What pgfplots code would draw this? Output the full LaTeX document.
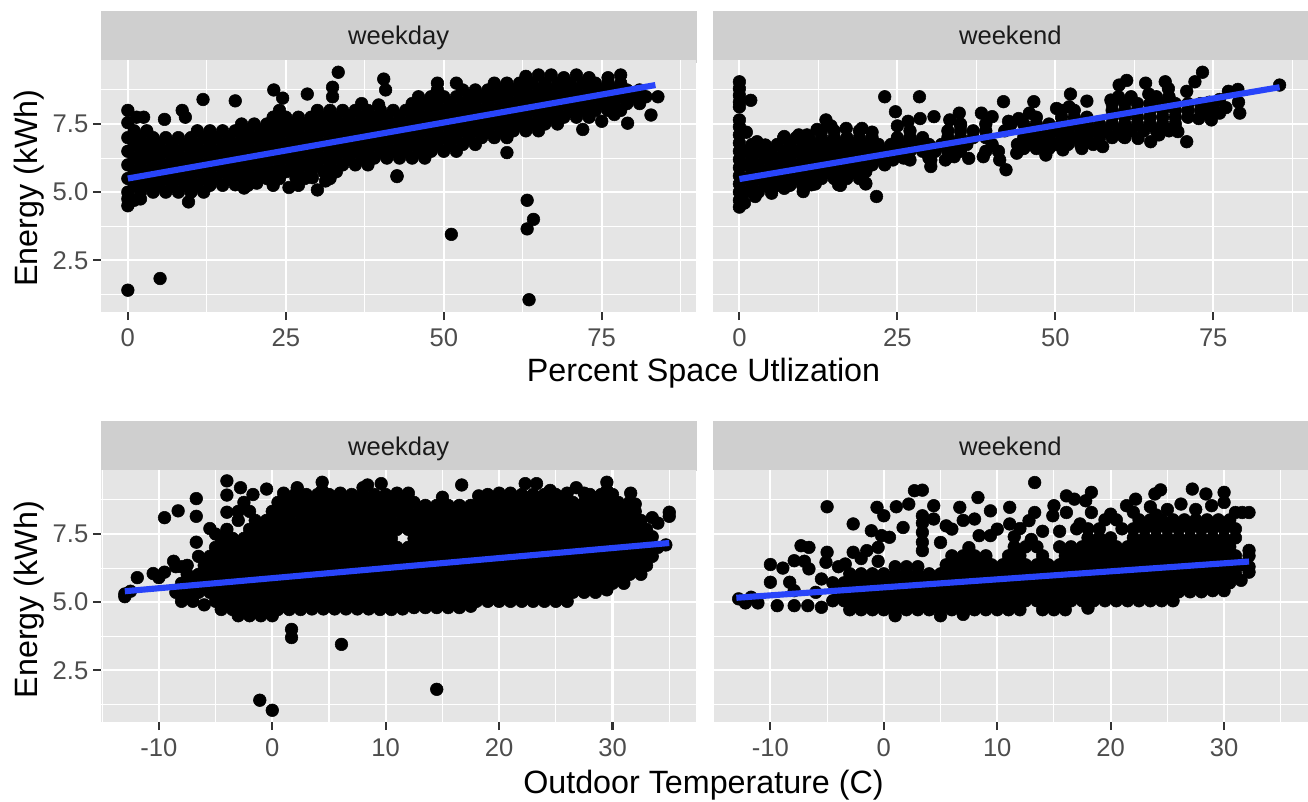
\documentclass[border=0pt]{standalone}
\usepackage{pgfplots}
\pgfplotsset{compat=1.18}
\usepackage{fontspec}
\setmainfont{Liberation Sans}
\definecolor{panelbg}{RGB}{229,229,229}
\definecolor{stripbg}{RGB}{207,207,207}
\definecolor{ticktxt}{RGB}{77,77,77}
\definecolor{tickcol}{RGB}{51,51,51}
\definecolor{stxt}{RGB}{26,26,26}
\definecolor{fitblue}{RGB}{40,68,250}
\pgfplotsset{
  panel/.style={
    scale only axis, width=446.6pt, height=189pt,
    anchor=south west, axis background/.style={fill=panelbg},
    clip mode=individual,
    ymin=0.6, ymax=9.85,
    axis line style={draw=none},
    grid=both,
    major grid style={white,line width=1.6pt},
    minor grid style={white,line width=0.8pt},
    ytick={2.5,5,7.5}, minor ytick={1.25,3.75,6.25,8.75},
    tick align=outside, major tick length=6pt, minor tick length=0pt,
    tick style={tickcol,line width=1.6pt},
    minor tick style={draw=none},
    tick label style={font=\fontsize{19.2}{22}\selectfont, text=ticktxt},
    xtick pos=bottom, ytick pos=left,
    xticklabel style={yshift=-3pt},
  },
  util/.style={panel, xmin=-4.25, xmax=90,
    xtick={0,25,50,75}, xticklabels={0,25,50,75},
    minor xtick={12.5,37.5,62.5,87.5}},
  temp/.style={panel, xmin=-15.1, xmax=37.4,
    xtick={-10,0,10,20,30}, xticklabels={-10,0,10,20,30},
    minor xtick={-15,-5,5,15,25,35}},
  leftp/.style={yticklabels={2.5,5.0,7.5}},
  rightp/.style={yticklabels={}, ytick style={draw=none}},
  pts/.style={only marks, mark=*, mark size=4.75pt, black, mark options={fill=black,draw=black}},
  fit/.style={no marks, fitblue, line width=4.6pt},
}
\begin{document}
\begin{tikzpicture}
\useasboundingbox (0,0) rectangle (981pt,600.75pt);

% strips
\fill[stripbg] (75.75pt,553.5pt) rectangle (522.4pt,592.7pt);
\fill[stripbg] (534.4pt,553.5pt) rectangle (981pt,592.7pt);
\fill[stripbg] (75.75pt,247.7pt) rectangle (522.4pt,285pt);
\fill[stripbg] (534.4pt,247.7pt) rectangle (981pt,285pt);

% space utilization, weekday
\begin{axis}[util, leftp, at={(75.75pt,366.75pt)}]
\addplot[pts] coordinates {
(0,1.4)(5.1,1.83)(51.2,3.45)(63.2,4.7)(63.2,3.65)(64.2,4.0)(63.5,1.05)(42.6,5.6)(60,6.45)
(0,8.0)(0,7.55)(2.5,7.75)(1.4,7.75)(5.8,7.67)(8.6,8.0)(9.1,7.75)(11.9,8.4)(17,8.35)(23.1,8.75)(24.5,8.45)(28.4,8.6)(33.3,9.4)(32.4,8.85)(32.4,8.5)(40.5,9.15)(40.8,8.75)(39.7,8.2)
(24.6,5.78)(26.6,5.53)(25.5,5.17)(30,5.08)(31.3,5.41)(29.2,5.53)(42.6,5.57)(18.4,5.15)(17,5.27)(20.4,5.33)(9.6,4.64)(83.9,8.5)(79.1,7.53)(82.8,7.83)(75,7.6)(77,7.85)(72,7.3)
(0,4.5)(0,4.75)(1,4.7)(2,4.75)
(0,5)(2,5)(4,5)(6,5)(8,5)(10,5)(12,5)
(1,5.25)(3,5.25)(5,5.25)(7,5.25)(9,5.25)(11,5.25)(13,5.25)(15,5.25)(19,5.25)(23,5.25)(27,5.25)
(0,5.5)(2,5.5)(4,5.5)(6,5.5)(8,5.5)(10,5.5)(12,5.5)(14,5.5)(16,5.5)(18,5.5)(20,5.5)(22,5.5)(24,5.5)(28,5.5)(32,5.5)
(1,5.75)(3,5.75)(5,5.75)(7,5.75)(9,5.75)(11,5.75)(13,5.75)(15,5.75)(17,5.75)(19,5.75)(21,5.75)(23,5.75)(25,5.75)(27,5.75)(29,5.75)(31,5.75)(33,5.75)
(0,6)(2,6)(4,6)(6,6)(8,6)(10,6)(12,6)(14,6)(16,6)(18,6)(20,6)(22,6)(24,6)(26,6)(28,6)(30,6)(32,6)(34,6)(36,6)(38,6)
(1,6.25)(3,6.25)(5,6.25)(7,6.25)(9,6.25)(11,6.25)(13,6.25)(15,6.25)(17,6.25)(19,6.25)(21,6.25)(23,6.25)(25,6.25)(27,6.25)(29,6.25)(31,6.25)(33,6.25)(35,6.25)(37,6.25)(39,6.25)(41,6.25)(43,6.25)(45,6.25)(47,6.25)
(0,6.5)(2,6.5)(4,6.5)(6,6.5)(8,6.5)(10,6.5)(12,6.5)(14,6.5)(16,6.5)(18,6.5)(20,6.5)(22,6.5)(24,6.5)(26,6.5)(28,6.5)(30,6.5)(32,6.5)(34,6.5)(36,6.5)(38,6.5)(40,6.5)(42,6.5)(44,6.5)(46,6.5)(48,6.5)(50,6.5)(52,6.5)
(1,6.75)(3,6.75)(5,6.75)(7,6.75)(9,6.75)(11,6.75)(13,6.75)(15,6.75)(17,6.75)(19,6.75)(21,6.75)(23,6.75)(25,6.75)(27,6.75)(29,6.75)(31,6.75)(33,6.75)(35,6.75)(37,6.75)(39,6.75)(41,6.75)(43,6.75)(45,6.75)(47,6.75)(49,6.75)(51,6.75)(53,6.75)(55,6.75)
(0,7)(2,7)(4,7)(6,7)(8,7)(10,7)(12,7)(14,7)(16,7)(18,7)(20,7)(22,7)(24,7)(26,7)(28,7)(30,7)(32,7)(34,7)(36,7)(38,7)(40,7)(42,7)(44,7)(46,7)(48,7)(50,7)(52,7)(54,7)(56,7)(58,7)(60,7)
(1,7.25)(3,7.25)(11,7.25)(13,7.25)(15,7.25)(17,7.25)(19,7.25)(21,7.25)(23,7.25)(25,7.25)(27,7.25)(29,7.25)(31,7.25)(33,7.25)(35,7.25)(37,7.25)(39,7.25)(41,7.25)(43,7.25)(45,7.25)(47,7.25)(49,7.25)(51,7.25)(53,7.25)(55,7.25)(57,7.25)(59,7.25)(61,7.25)(63,7.25)(65,7.25)
(18,7.5)(20,7.5)(22,7.5)(24,7.5)(26,7.5)(28,7.5)(30,7.5)(32,7.5)(34,7.5)(36,7.5)(38,7.5)(40,7.5)(42,7.5)(44,7.5)(46,7.5)(48,7.5)(50,7.5)(52,7.5)(54,7.5)(56,7.5)(58,7.5)(60,7.5)(62,7.5)(64,7.5)(66,7.5)(68,7.5)
(23,7.75)(25,7.75)(27,7.75)(29,7.75)(31,7.75)(33,7.75)(35,7.75)(37,7.75)(39,7.75)(41,7.75)(43,7.75)(45,7.75)(47,7.75)(49,7.75)(51,7.75)(53,7.75)(55,7.75)(57,7.75)(59,7.75)(61,7.75)(63,7.75)(65,7.75)(67,7.75)(69,7.75)(71,7.75)(73,7.75)
(24,8)(30,8)(32,8)(34,8)(36,8)(38,8)(40,8)(42,8)(44,8)(46,8)(48,8)(50,8)(52,8)(54,8)(56,8)(58,8)(60,8)(62,8)(64,8)(66,8)(68,8)(70,8)(72,8)(74,8)(76,8)(78,8)
(37,8.25)(45,8.25)(47,8.25)(49,8.25)(51,8.25)(53,8.25)(55,8.25)(57,8.25)(59,8.25)(61,8.25)(63,8.25)(65,8.25)(67,8.25)(69,8.25)(71,8.25)(73,8.25)(75,8.25)(77,8.25)(79,8.25)(81,8.25)
(46,8.5)(48,8.5)(50,8.5)(52,8.5)(54,8.5)(56,8.5)(58,8.5)(60,8.5)(62,8.5)(64,8.5)(66,8.5)(68,8.5)(70,8.5)(72,8.5)(74,8.5)(76,8.5)(78,8.5)(80,8.5)(82,8.5)
(49,8.75)(53,8.75)(55,8.75)(57,8.75)(59,8.75)(61,8.75)(63,8.75)(65,8.75)(67,8.75)(69,8.75)(71,8.75)(73,8.75)(75,8.75)(77,8.75)(79,8.75)(81,8.75)
(49,9)(52,9)(58,9)(60,9)(62,9)(64,9)(66,9)(68,9)(70,9)(72,9)(74,9)(76,9)(78,9)
(63,9.25)(65,9.3)(67,9.3)(69,9.2)(71,9.3)(73,9.2)(76,9.2)(78,9.3)
};
\addplot[fit] coordinates {(0,5.5)(83.5,8.93)};
\end{axis}

% space utilization, weekend
\begin{axis}[util, rightp, at={(534.4pt,366.75pt)}]
\addplot[pts] coordinates {
(0,9.05)(0,8.8)(0,8.55)(0,8.3)(0,8.13)(1.8,8.37)(0,7.65)(0,7.4)(0,7.1)(0,6.8)(0,6.5)(0,6.2)(0,5.9)(0,5.6)(0,5.3)(0,5)(0,4.7)(0,4.45)(0.8,4.6)
(1.1,7.2)(2.8,6.85)(4.1,6.73)(7.1,7.04)(9.4,7.1)(10.7,7.1)(12.3,7.3)(13.7,7.65)(14.5,7.43)(16.9,7.34)(19.4,7.34)(21,7.2)(23,8.5)(24.7,7.95)(25,7.43)(26.7,7.6)(28.5,8.5)(28.6,7.7)(30.8,7.77)(33.3,7.65)(34.8,7.9)(35,7.46)(38.3,7.9)(40,7.77)(41.8,8.32)(42.6,7.6)(44.2,7.7)(46.6,8.32)(45.9,7.9)(50.2,8.07)(52.4,8.6)(52.2,8.13)(55,8.34)(58.8,8.38)(60.1,8.93)(61.3,9.1)(64.3,9)(64.8,8.6)(67.4,9.05)(67.9,8.8)(70.8,8.7)(72.1,9.05)(73.3,9.4)(74.4,8.3)(77.4,8.7)(78.9,8.77)(79,8.3)(79.2,7.9)(85.5,8.93)
(2.5,4.84)(5.1,4.96)(7.1,5.14)(10.1,5.02)(11.4,5.27)(15.7,5.27)(20,5.33)(21.7,4.84)(17.7,5.75)(24.3,6.18)(27,6.18)(30.3,5.94)(30.3,6.18)(32.6,6.18)(36.3,6.24)(38.6,6.3)(42.2,5.82)(41.2,6.18)(43.9,6.43)(48.5,6.36)(51.2,6.55)(54.2,6.6)(57.5,6.67)(60.8,7.04)(63.1,6.97)(65.1,6.85)(66.4,7.1)(69.4,7.22)(70.8,6.85)(72.7,7.7)(74.7,7.65)
(1,5)(3,5)(5,5.1)
(2,5.25)(4,5.25)(6,5.25)(8,5.25)(10,5.25)(12,5.3)(16,5.25)(20,5.3)
(1,5.5)(3,5.5)(5,5.5)(7,5.5)(9,5.5)(11,5.5)(13,5.5)(15,5.5)(17,5.5)(19,5.5)
(2,5.75)(4,5.75)(6,5.75)(8,5.75)(10,5.75)(12,5.75)(14,5.75)(16,5.75)(18,5.75)(20,5.75)
(1,6)(3,6)(5,6)(7,6)(9,6)(11,6)(13,6)(15,6)(17,6)(19,6)(21,6)(23,6)
(2,6.25)(4,6.25)(6,6.25)(8,6.25)(10,6.25)(12,6.25)(14,6.25)(16,6.25)(18,6.25)(20,6.25)(22,6.25)(24,6.25)(26,6.25)(30,6.25)(34,6.3)
(1,6.5)(3,6.5)(5,6.5)(7,6.5)(9,6.5)(11,6.5)(13,6.5)(15,6.5)(17,6.5)(19,6.5)(21,6.5)(23,6.5)(25,6.5)(27,6.5)(29,6.5)(31,6.5)(33,6.5)(35,6.5)(39,6.5)(41,6.5)(45,6.6)(47,6.6)(49,6.6)
(2,6.75)(6,6.75)(8,6.75)(10,6.75)(12,6.75)(14,6.75)(16,6.75)(18,6.75)(20,6.75)(22,6.75)(24,6.75)(26,6.75)(28,6.75)(30,6.75)(32,6.75)(34,6.75)(36,6.75)(40,6.75)(44,6.75)(46,6.75)(48,6.75)(50,6.75)(52,6.75)(54,6.75)(56,6.75)
(7,7)(9,7)(11,7)(13,7)(15,7)(17,7)(19,7)(21,7)(25,7)(27,7)(29,7)(33,7)(35,7)(37,7)(39,7)(45,7)(47,7)(49,7)(51,7)(53,7)(55,7)(57,7)(59,7)(61,7)
(13,7.25)(15,7.25)(19,7.25)(27,7.25)(33,7.25)(35,7.25)(37,7.25)(39,7.25)(42,7.25)(46,7.25)(48,7.25)(50,7.25)(52,7.25)(54,7.25)(56,7.25)(58,7.25)(60,7.25)(62,7.25)(64,7.25)(66,7.25)(68,7.25)
(35,7.5)(39,7.5)(43,7.5)(45,7.5)(47,7.5)(49,7.5)(51,7.5)(53,7.5)(55,7.5)(57,7.5)(59,7.5)(61,7.5)(63,7.5)(65,7.5)(67,7.5)(69,7.5)
(47,7.75)(51,7.75)(53,7.75)(55,7.75)(59,7.75)(61,7.75)(63,7.75)(65,7.75)(67,7.75)(69,7.75)(71,7.75)(74,7.9)(76,7.9)
(51,8)(53,8)(59,8)(61,8)(63,8)(65,8)(67,8)(69,8)(71,8)(73,8)(75,8.1)(77,8.1)
(59,8.25)(61,8.25)(63,8.25)(65,8.25)(67,8.25)(69,8.25)(71,8.25)(73,8.25)(76,8.4)
(60,8.5)(62,8.5)(66,8.5)(68,8.5)
};
\addplot[fit] coordinates {(0,5.48)(85.5,8.85)};
\end{axis}

% outdoor temperature, weekday
\begin{axis}[temp, leftp, at={(75.75pt,59.25pt)}]
\addplot[pts] coordinates {
(-13,5.2)(-13,5.3)(-12.5,5.4)(-11.9,5.9)(-10.5,6.05)(-10,5.9)(-9.5,6.1)(-8.7,6.5)(-8.5,6.3)(-8,6.3)(-7.5,6.35)(-9.5,8.1)(-8.3,8.35)(-6.7,8.8)(-6.7,8.15)(-6.7,7.2)(-5.5,7.7)(-5,7.5)(1.7,4)(1.7,3.7)(6.1,3.45)(14.5,1.8)(-1.1,1.4)(0,1.03)
(-4,9.45)(-4,8.93)(-4,8.3)(-2.8,9.2)(-1.7,8.95)(-0.5,9.15)(1,9)(2.2,9.2)(4.4,9.4)(4.4,9.1)(6,9)(8,9.2)(8.4,9.3)(9.6,9.35)(11,9)(12,9)(15,8.85)(16.7,9.3)(18.2,8.9)(20,9)(21,9)(22.3,9.35)(23.3,9.35)(24.5,9.1)(26,9)(26.8,9.2)(27.5,9)(29.5,9.4)(29.5,9.1)(31.6,9)(33.5,8.1)(34,7.9)(35,8.3)(35,8.15)(34.7,7.1)(33.5,7.4)
(2,8.95)(3,8.95)(4,8.95)(5,8.95)(7,8.95)(8,8.95)(9,8.95)(10,8.95)(19,8.95)(22,8.95)(23,8.95)(24,8.95)(25,8.95)(28,8.95)(29,8.95)(30,8.95)
(-3,4.5)(-2,4.5)(-1,4.5)(0,4.5)
(-4.5,4.73)(-3.5,4.73)(-2.5,4.73)(-1.5,4.73)(-0.5,4.73)(0.5,4.73)(1.5,4.73)(2.5,4.73)(3.5,4.75)(4.5,4.75)(5.5,4.75)(6.5,4.75)(7.5,4.75)(8.5,4.75)(9.5,4.73)(10.5,4.73)(11.5,4.75)(12.5,4.8)(13.5,4.8)(14.5,4.8)(15.5,4.8)(16.5,4.8)(17.5,4.85)
(-8,5.03)(-7,5.03)(-6,4.9)(-5,5.03)(-4,5.03)(-3,5.03)(-2,5.03)(-1,5.03)(0,5.03)(1,5.03)(2,5.03)(3,5.03)(4,5.03)(5,5.03)(6,5.03)(7,5.03)(8,5.03)(9,5.03)(10,5.03)(11,5.03)(12,5.03)(13,5.03)(14,5.03)(15,5.03)(16,5.03)(17,5.03)(18,5.03)(19,5.03)(20,5.03)(21,5.03)(22,5.03)(23,5.03)(24,5.03)(25,5.03)(26,5.03)
(-8.5,5.36)(-7.5,5.36)(-6.5,5.36)(-5.5,5.36)(-4.5,5.36)(-3.5,5.36)(-2.5,5.36)(-1.5,5.36)(-0.5,5.36)(0.5,5.36)(1.5,5.36)(2.5,5.36)(3.5,5.36)(4.5,5.36)(5.5,5.36)(6.5,5.36)(7.5,5.36)(8.5,5.36)(9.5,5.36)(10.5,5.36)(11.5,5.36)(12.5,5.36)(13.5,5.36)(14.5,5.36)(15.5,5.36)(16.5,5.36)(17.5,5.36)(18.5,5.36)(19.5,5.36)(20.5,5.36)(21.5,5.36)(22.5,5.36)(23.5,5.36)(24.5,5.36)(25.5,5.36)(26.5,5.36)(27.5,5.36)(28.5,5.36)(29.5,5.45)
(-8,5.69)(-7,5.69)(-6,5.69)(-5,5.69)(-4,5.69)(-3,5.69)(-2,5.69)(-1,5.69)(0,5.69)(1,5.69)(2,5.69)(3,5.69)(4,5.69)(5,5.69)(6,5.69)(7,5.69)(8,5.69)(9,5.69)(10,5.69)(11,5.69)(12,5.69)(13,5.69)(14,5.69)(15,5.69)(16,5.69)(17,5.69)(18,5.69)(19,5.69)(20,5.69)(21,5.69)(22,5.69)(23,5.69)(24,5.69)(25,5.69)(26,5.69)(27,5.69)(28,5.69)(29,5.69)(30,5.69)(31,5.69)
(-7.5,6.02)(-6.5,6.02)(-5.5,6.02)(-4.5,6.02)(-3.5,6.02)(-2.5,6.02)(-1.5,6.02)(-0.5,6.02)(0.5,6.02)(1.5,6.02)(2.5,6.02)(3.5,6.02)(4.5,6.02)(5.5,6.02)(6.5,6.02)(7.5,6.02)(8.5,6.02)(9.5,6.02)(10.5,6.02)(11.5,6.02)(12.5,6.02)(13.5,6.02)(14.5,6.02)(15.5,6.02)(16.5,6.02)(17.5,6.02)(18.5,6.02)(19.5,6.02)(20.5,6.02)(21.5,6.02)(22.5,6.02)(23.5,6.02)(24.5,6.02)(25.5,6.02)(26.5,6.02)(27.5,6.02)(28.5,6.02)(29.5,6.02)(30.5,6.02)(31.5,6.02)(32.5,6.02)
(-6,6.35)(-5,6.35)(-4,6.35)(-3,6.35)(-2,6.35)(-1,6.35)(0,6.35)(1,6.35)(2,6.35)(3,6.35)(4,6.35)(5,6.35)(6,6.35)(7,6.35)(8,6.35)(9,6.35)(10,6.35)(11,6.35)(12,6.35)(13,6.35)(14,6.35)(15,6.35)(16,6.35)(17,6.35)(18,6.35)(19,6.35)(20,6.35)(21,6.35)(22,6.35)(23,6.35)(24,6.35)(25,6.35)(26,6.35)(27,6.35)(28,6.35)(29,6.35)(30,6.35)(31,6.35)(32,6.35)(33,6.35)
(-6.5,6.68)(-5.5,6.68)(-4.5,6.68)(-3.5,6.68)(-2.5,6.68)(-1.5,6.68)(-0.5,6.68)(0.5,6.68)(1.5,6.68)(2.5,6.68)(3.5,6.68)(4.5,6.68)(5.5,6.68)(6.5,6.68)(7.5,6.68)(8.5,6.68)(9.5,6.68)(10.5,6.68)(11.5,6.68)(12.5,6.68)(13.5,6.68)(14.5,6.68)(15.5,6.68)(16.5,6.68)(17.5,6.68)(18.5,6.68)(19.5,6.68)(20.5,6.68)(21.5,6.68)(22.5,6.68)(23.5,6.68)(24.5,6.68)(25.5,6.68)(26.5,6.68)(27.5,6.68)(28.5,6.68)(29.5,6.68)(30.5,6.68)(31.5,6.68)(32.5,6.68)(33.5,6.68)
(-5,7.01)(-4,7.01)(-3,7.01)(-2,7.01)(-1,7.01)(0,7.01)(1,7.01)(2,7.01)(3,7.01)(4,7.01)(5,7.01)(6,7.01)(7,7.01)(8,7.01)(9,7.01)(10,7.01)(11,7.01)(12,7.01)(13,7.01)(14,7.01)(15,7.01)(16,7.01)(17,7.01)(18,7.01)(19,7.01)(20,7.01)(21,7.01)(22,7.01)(23,7.01)(24,7.01)(25,7.01)(26,7.01)(27,7.01)(28,7.01)(29,7.01)(30,7.01)(31,7.01)(32,7.01)(33,7.01)(34,7.01)
(-4.5,7.34)(-3.5,7.34)(-2.5,7.34)(-1.5,7.34)(-0.5,7.34)(0.5,7.34)(1.5,7.34)(2.5,7.34)(3.5,7.34)(4.5,7.34)(5.5,7.34)(6.5,7.34)(7.5,7.34)(8.5,7.34)(9.5,7.34)(10.5,7.34)(12.5,7.34)(13.5,7.34)(14.5,7.34)(15.5,7.34)(16.5,7.34)(17.5,7.34)(18.5,7.34)(19.5,7.34)(20.5,7.34)(21.5,7.34)(22.5,7.34)(23.5,7.34)(24.5,7.34)(25.5,7.34)(26.5,7.34)(27.5,7.34)(28.5,7.34)(29.5,7.34)(30.5,7.34)(31.5,7.34)(32.5,7.34)
(-4,7.67)(-2,7.67)(-1,7.67)(0,7.67)(1,7.67)(2,7.67)(3,7.67)(4,7.67)(5,7.67)(6,7.67)(7,7.67)(8,7.67)(9,7.67)(10,7.67)(11,7.67)(12,7.67)(13,7.67)(14,7.67)(15,7.67)(16,7.67)(17,7.67)(18,7.67)(19,7.67)(20,7.67)(21,7.67)(22,7.67)(23,7.67)(24,7.67)(25,7.67)(26,7.67)(27,7.67)(28,7.67)(29,7.67)(30,7.67)(31,7.67)(32,7.67)(33,7.67)
(-3,8)(-1.5,8)(-0.5,8)(0.5,8)(1.5,8)(2.5,8)(3.5,8)(4.5,8)(5.5,8)(6.5,8)(7.5,8)(8.5,8)(9.5,8)(10.5,8)(11.5,8)(12.5,8)(13.5,8)(14.5,8)(15.5,8)(16.5,8)(17.5,8)(18.5,8)(19.5,8)(20.5,8)(21.5,8)(22.5,8)(23.5,8)(24.5,8)(25.5,8)(26.5,8)(27.5,8)(28.5,8)(29.5,8)(30.5,8)(31.5,8)(32.5,8)
(-3,8.33)(-2,8.33)(0,8.33)(1,8.33)(2,8.33)(3,8.33)(4,8.33)(5,8.33)(6,8.33)(7,8.33)(8,8.33)(9,8.33)(10,8.33)(11,8.33)(12,8.33)(13,8.33)(14,8.33)(15,8.33)(16,8.33)(17,8.33)(18,8.33)(19,8.33)(20,8.33)(21,8.33)(22,8.33)(23,8.33)(24,8.33)(25,8.33)(26,8.33)(27,8.33)(28,8.33)(29,8.33)(30,8.33)(31,8.33)(32,8.33)
(-2.5,8.66)(0.5,8.66)(1.5,8.66)(2.5,8.66)(3.5,8.66)(4.5,8.66)(5.5,8.66)(6.5,8.66)(7.5,8.66)(8.5,8.66)(9.5,8.66)(10.5,8.66)(11.5,8.66)(12.5,8.66)(13.5,8.55)(14.5,8.55)(15.5,8.55)(16.5,8.55)(17.5,8.55)(18.5,8.66)(19.5,8.66)(20.5,8.66)(21.5,8.66)(22.5,8.66)(23.5,8.66)(24.5,8.66)(25.5,8.66)(26.5,8.66)(27.5,8.66)(28.5,8.66)(29.5,8.66)(30.5,8.66)(31.5,8.66)(32,8.6)
};
\addplot[fit] coordinates {(-13,5.4)(35,7.17)};
\end{axis}

% outdoor temperature, weekend
\begin{axis}[temp, rightp, at={(534.4pt,59.25pt)}]
\addplot[pts] coordinates {
(-5,8.5)(-2.7,7.87)(-1.1,7.62)(-0.6,8.48)(0,8.17)(1.1,8.5)(2.2,8.6)(2.7,9.09)(3.4,9.11)(1.7,7.74)(-0.2,7.44)(0.5,7.38)(-0.5,7.01)(-1.5,6.89)(-2.7,6.83)(-3.4,6.4)(-5,6.83)(-5.1,6.46)(-6.6,7.01)(-7.3,7.07)(-7.9,6.52)(-10,6.38)(-8.9,6.25)(-10,5.73)(-8.3,5.73)(-12.8,5.12)(-12.2,4.97)(-11.7,5.18)(-11.1,4.97)(-9.4,4.87)(-7.9,4.87)(-6.7,4.87)(-5.5,4.81)(-6.6,6.22)(-5.5,5.85)(-7.9,5.42)(-6,5.36)(-7,6.5)(-4,6.3)(-2,6.6)(-0.5,6.5)
(3.4,8.17)(3.4,7.9)(3.4,7.56)(3.4,7.2)(3.4,6.89)(4.4,8.54)(4.4,8.05)(5,7.19)(5.5,7.8)(6,7.68)(6.7,8.48)(7,8)(8.3,8.84)(8.4,7.44)(8,8.05)(9.4,8.35)(10,7.68)(9.4,7.44)(11.1,8.48)(11.1,7.87)(13.3,9.39)(13.3,8.29)(12.8,7.99)(15,8.54)(14.9,8.17)(16.1,8.9)(16.8,8.78)(18.3,9.03)(17.8,8.72)(16.1,8.29)(17.3,7.87)(18.3,8.29)(20,8.23)(21.4,8.54)(22.2,8.78)(23.9,8.97)(24.4,9.12)(26.2,8.6)(27.2,9.15)(28.4,8.97)(30,9.03)(30,8.66)(28.9,8.54)(31,8.29)(31.6,8.29)(32.2,8.29)(23.5,8.5)(25,8.4)(27.5,8.4)(24,8.2)(22,8.3)(12,7.7)(14,7.6)(15.5,7.6)(13,7.3)(11.5,7.4)
(32.2,6.9)(32.2,6.7)(32.2,6.3)(32.2,6.1)(1,4.5)(5,4.5)(7,4.55)
(-3,4.72)(-2,4.72)(-1,4.72)(0,4.72)(1,4.72)(2,4.72)(3,4.72)(4,4.72)(5,4.72)(6,4.72)(7,4.72)(8,4.72)(9,4.72)(10,4.72)(11,4.72)(12,4.72)(14,4.72)(15,4.72)(16,4.72)(18,4.78)
(-4.5,5.05)(-3.5,5.05)(-2.5,5.05)(-1.5,5.05)(-0.5,5.05)(0.5,5.05)(1.5,5.05)(2.5,5.05)(3.5,5.05)(4.5,5.05)(5.5,5.05)(6.5,5.05)(7.5,5.05)(8.5,5.05)(9.5,5.05)(10.5,5.05)(11.5,5.05)(12.5,5.05)(13.5,5.05)(14.5,5.05)(15.5,5.05)(16.5,5.05)(17.5,5.05)(18.5,5.05)(19.5,5.05)(20.5,5.05)(21.5,5.05)(22.5,5.05)(23.5,5.05)(24.5,5.05)(25.5,5.05)
(-4,5.38)(-3,5.38)(-2,5.38)(-1,5.38)(0,5.38)(1,5.38)(2,5.38)(3,5.38)(4,5.38)(5,5.38)(6,5.38)(7,5.38)(8,5.38)(9,5.38)(10,5.38)(11,5.38)(12,5.38)(13,5.38)(14,5.38)(15,5.38)(16,5.38)(17,5.38)(18,5.38)(19,5.38)(20,5.38)(21,5.38)(22,5.38)(23,5.38)(24,5.38)(25,5.38)(26,5.38)(27,5.38)(28,5.38)(29,5.42)(30,5.42)
(-4.5,5.71)(-3.5,5.71)(-2.5,5.71)(-1.5,5.71)(-0.5,5.71)(0.5,5.71)(1.5,5.71)(2.5,5.71)(3.5,5.71)(4.5,5.71)(5.5,5.71)(6.5,5.71)(7.5,5.71)(8.5,5.71)(9.5,5.71)(10.5,5.71)(11.5,5.71)(12.5,5.71)(13.5,5.71)(14.5,5.71)(15.5,5.71)(16.5,5.71)(17.5,5.71)(18.5,5.71)(19.5,5.71)(20.5,5.71)(21.5,5.71)(22.5,5.71)(23.5,5.71)(24.5,5.71)(25.5,5.71)(26.5,5.71)(27.5,5.71)(28.5,5.71)(29.5,5.71)(30.5,5.71)(31.5,5.8)
(-3,6.04)(-2,6.04)(-1,6.04)(0,6.04)(1,6.04)(2,6.04)(3,6.04)(4,6.04)(5,6.04)(6,6.04)(7,6.04)(8,6.04)(9,6.04)(10,6.04)(11,6.04)(12,6.04)(13,6.04)(14,6.04)(15,6.04)(16,6.04)(17,6.04)(18,6.04)(19,6.04)(20,6.04)(21,6.04)(22,6.04)(23,6.04)(24,6.04)(25,6.04)(26,6.04)(27,6.04)(28,6.04)(29,6.04)(30,6.04)(31,6.04)
(1,6.3)(2,6.3)(3,6.3)(5.5,6.37)(6.5,6.37)(7.5,6.37)(8.5,6.37)(9.5,6.37)(10.5,6.37)(11.5,6.37)(12.5,6.37)(13.5,6.37)(14.5,6.37)(15.5,6.37)(16.5,6.37)(17.5,6.37)(18.5,6.37)(19.5,6.37)(20.5,6.37)(21.5,6.37)(22.5,6.37)(23.5,6.37)(24.5,6.37)(25.5,6.37)(26.5,6.37)(27.5,6.37)(28.5,6.37)(29.5,6.37)(30.5,6.37)(31.5,6.37)
(6,6.7)(7,6.7)(8,6.7)(9,6.7)(11,6.7)(12,6.7)(14,6.7)(16,6.7)(17,6.7)(18,6.7)(19,6.7)(20,6.7)(21,6.7)(22,6.7)(23,6.7)(24,6.7)(25,6.7)(26,6.7)(27,6.7)(28,6.7)(29,6.7)(30,6.7)(31,6.7)
(7.5,7)(11.5,7.03)(12.5,7.03)(13.5,7.03)(15.5,7.03)(16.5,7.03)(17.5,7.03)(18.5,7.03)(19.5,7.03)(20.5,7.03)(21.5,7.03)(22.5,7.03)(23.5,7.03)(24.5,7.03)(25.5,7.03)(26.5,7.03)(27.5,7.03)(28.5,7.03)(29.5,7.03)(30.5,7.03)
(18,7.36)(19,7.36)(20,7.36)(22,7.36)(23,7.36)(24,7.36)(25,7.36)(26,7.36)(27,7.36)(28,7.36)(29,7.36)(30,7.36)(31,7.36)
(17,7.69)(18,7.69)(19,7.69)(21,7.69)(22,7.69)(23,7.69)(24,7.69)(25,7.69)(26,7.69)(27,7.69)(28,7.69)(29,7.69)(30,7.69)(31,7.69)
(19.5,8.02)(20.5,8.02)(22.5,8.02)(23.5,8.02)(24.5,8.02)(25.5,8.02)(26.5,8.02)(27.5,8.02)(28.5,8.02)(29.5,8.02)(30.5,8.02)
};
\addplot[fit] coordinates {(-13,5.16)(32.2,6.49)};
\end{axis}

% facet labels
\node[stxt,anchor=base,font=\fontsize{19.2}{22}\selectfont] at (299pt,567pt) {weekday};
\node[stxt,anchor=base,font=\fontsize{19.2}{22}\selectfont] at (757.7pt,567pt) {weekend};
\node[stxt,anchor=base,font=\fontsize{19.2}{22}\selectfont] at (299pt,259.5pt) {weekday};
\node[stxt,anchor=base,font=\fontsize{19.2}{22}\selectfont] at (757.7pt,259.5pt) {weekend};

% axis titles
\node[rotate=90,font=\fontsize{24.2}{28}\selectfont] at (21.5pt,459.75pt) {Energy (kWh)};
\node[rotate=90,font=\fontsize{24.2}{28}\selectfont] at (21.5pt,151pt) {Energy (kWh)};
\node[anchor=base,font=\fontsize{24.2}{28}\selectfont] at (527.6pt,314.5pt) {Percent Space Utlization};
\node[anchor=base,font=\fontsize{24.2}{28}\selectfont] at (527.6pt,5.75pt) {Outdoor Temperature (C)};
\end{tikzpicture}
\end{document}
